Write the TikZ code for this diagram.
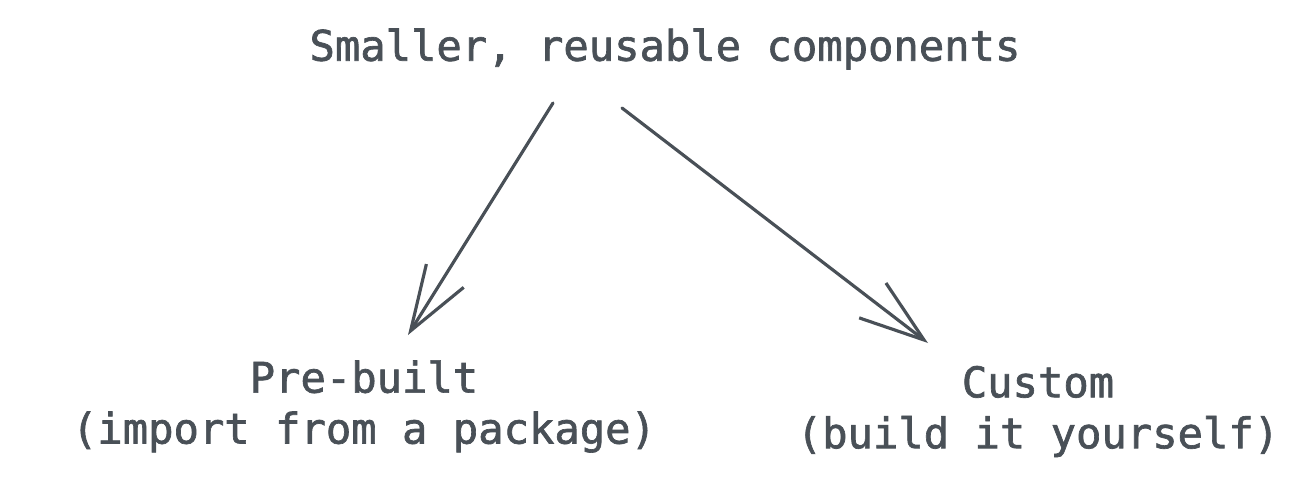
\documentclass[tikz,border=0pt]{standalone}
\usepackage{fontspec}
\setmonofont[FakeBold=1.6,AutoFakeBold=false]{DejaVu Sans Mono}
\usetikzlibrary{arrows.meta,calc}
\definecolor{ink}{HTML}{495057}
\begin{document}
\begin{tikzpicture}
    \tikzstyle{texte}=[inner sep=0pt,align=center,text=ink,font=\ttfamily\fontsize{12}{14.5}\selectfont]
    \tikzstyle{fleche}=[draw=ink,line width=0.9pt,line cap=round,line join=round,-{Straight Barb[length=6.5mm,width=4.4mm,line width=0.9pt]}]
    \useasboundingbox (0,0) rectangle (13.15,-4.82);
    \node[texte] (titre) at (6.65,-0.49) {Smaller, reusable components};
    \node[texte] (prebuilt) at (3.64,-4.065) {Pre-built\\(import from a package)};
    \node[texte] (custom) at (10.38,-4.115) {Custom\\(build it yourself)};
    \draw[fleche] ($(titre)+(-1.12,-0.54)$) -- ($(prebuilt)+(0.44,0.715)$);
    \draw[fleche] ($(titre)+(-0.43,-0.59)$) -- ($(custom)+(-1.10,0.685)$);
\end{tikzpicture}
\end{document}
